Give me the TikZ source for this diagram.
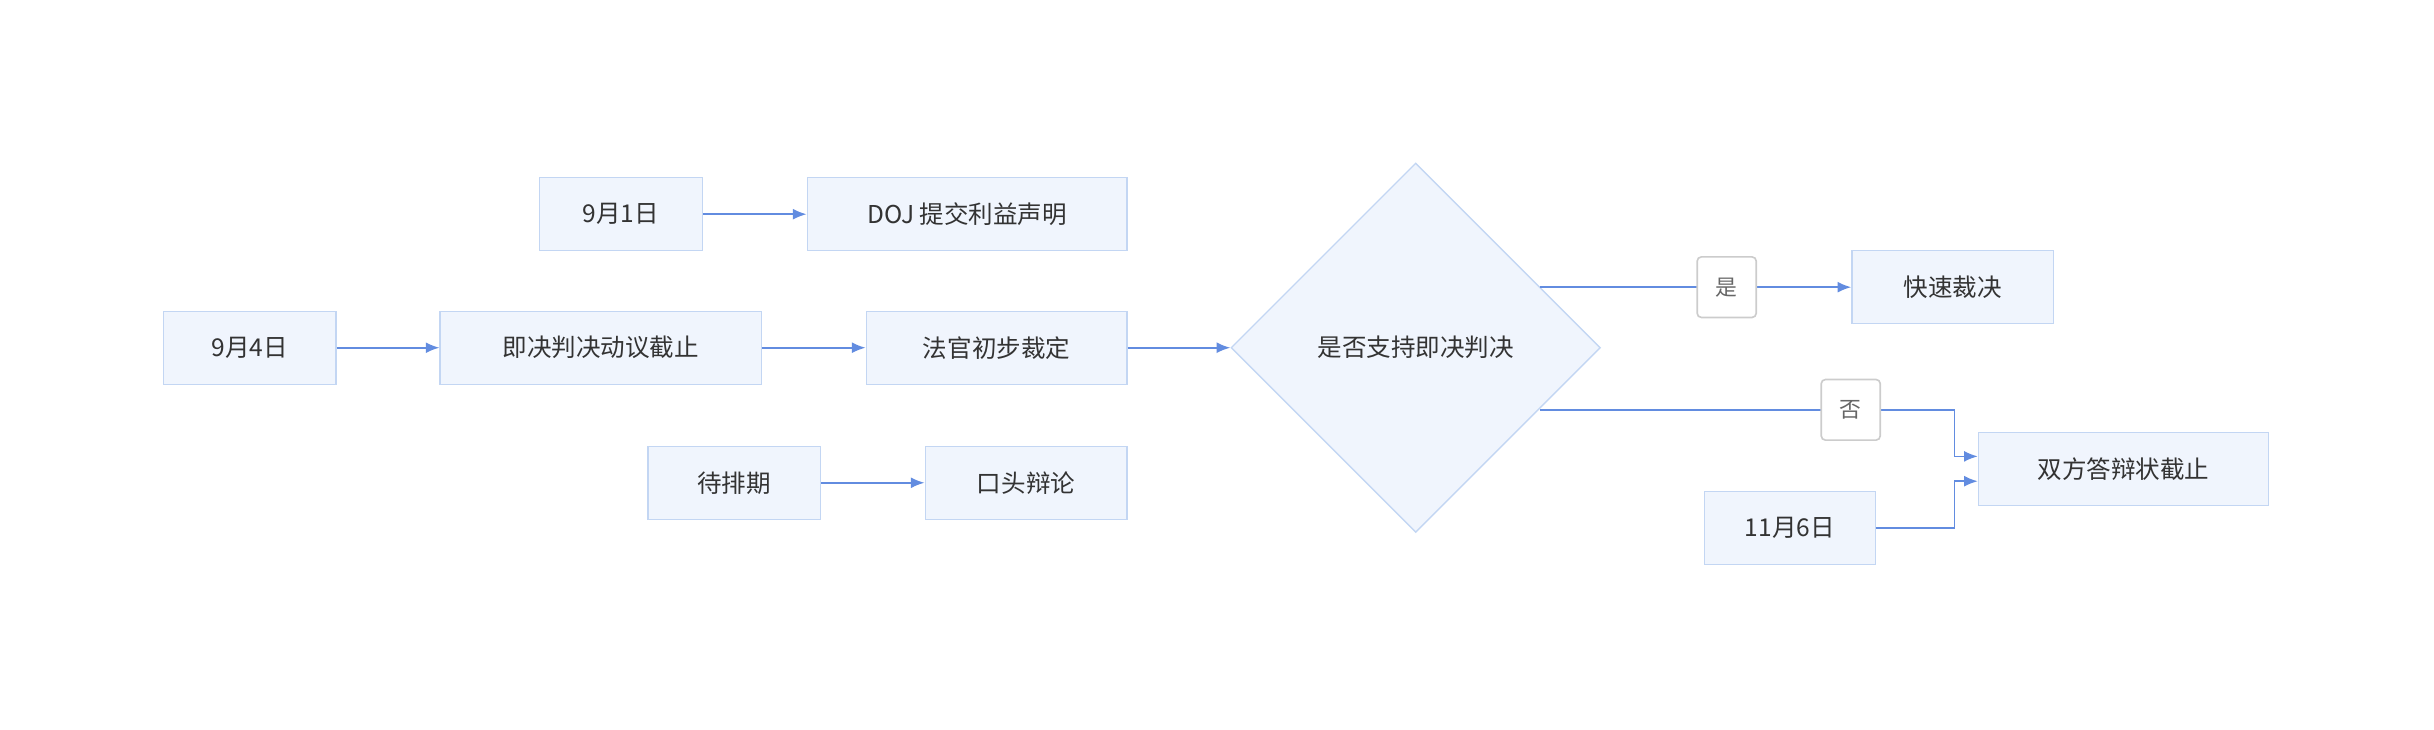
\documentclass[tikz,border=0pt]{standalone}
\usepackage{fontspec}
\setmainfont{Noto Sans CJK SC}
\usetikzlibrary{shapes.geometric, arrows.meta}
\definecolor{boxfill}{HTML}{F0F5FD}
\definecolor{boxline}{HTML}{C3D6F3}
\definecolor{arr}{HTML}{3B6FD8}
\definecolor{txt}{HTML}{333333}
\begin{document}
\begin{tikzpicture}[x=0.02cm, y=-0.02cm,
      font=\fontsize{9}{11}\selectfont, text=txt,
      box/.style={rectangle, draw=boxline, fill=boxfill, line width=0.5pt, minimum height=0.94cm, inner sep=0pt},
      dec/.style={diamond, draw=boxline, fill=boxfill, line width=0.5pt, minimum size=4.76cm, inner sep=0pt},
      lbl/.style={rectangle, rounded corners=1.5pt, draw=black!20, fill=white, text=black!60, minimum width=0.76cm, minimum height=0.78cm, inner sep=0pt, font=\fontsize{8}{10}\selectfont},
      flow/.style={draw=arr!80, line width=0.6pt, -{Latex[length=5pt, width=4pt]}}]
    \useasboundingbox (0,0) rectangle (1568,470);
    \node[box, minimum width=2.10cm] (sep1) at (400,138) {9月1日};
    \node[box, minimum width=4.12cm] (doj) at (623,138) {DOJ 提交利益声明};
    \node[box, minimum width=2.22cm] (sep4) at (161,224) {9月4日};
    \node[box, minimum width=4.14cm] (motion) at (387,224) {即决判决动议截止};
    \node[box, minimum width=3.36cm] (ruling) at (642,224) {法官初步裁定};
    \node[dec] (support) at (912,224) {是否支持即决判决};
    \node[box, minimum width=2.22cm] (pending) at (473,311) {待排期};
    \node[box, minimum width=2.60cm] (oral) at (661,311) {口头辩论};
    \node[box, minimum width=2.60cm] (fast) at (1258,185) {快速裁决};
    \node[box, minimum width=3.74cm] (brief) at (1368,302) {双方答辩状截止};
    \node[box, minimum width=2.20cm] (nov6) at (1153,340) {11月6日};
    \coordinate (yes) at (992,185);
    \coordinate (no) at (992,264);
    % edges
    \draw[flow] (sep1) -- (doj);
    \draw[flow] (sep4) -- (motion);
    \draw[flow] (motion) -- (ruling);
    \draw[flow] (ruling) -- (support);
    \draw[flow] (pending) -- (oral);
    \draw[flow] (yes) -- node[lbl, pos=0.6] {是} (fast);
    \draw[flow] (no) -- node[lbl, pos=0.75] {否} (1259,264) -- (1259,294) -- (brief.west |- 0,294);
    \draw[flow] (nov6) -- (1259,340) -- (1259,310) -- (brief.west |- 0,310);
\end{tikzpicture}
\end{document}
